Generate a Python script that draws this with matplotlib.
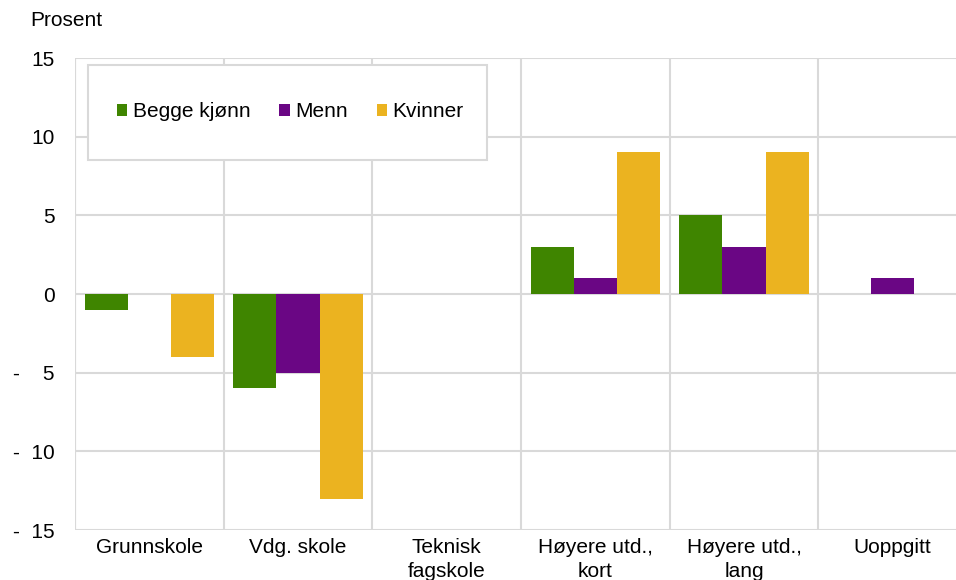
import matplotlib
matplotlib.use("Agg")
import matplotlib.pyplot as plt
from matplotlib.patches import Rectangle
import numpy as np

plt.rcParams['font.family'] = ['Liberation Sans', 'DejaVu Sans']

categories = ["Grunnskole", "Vdg. skole", "Teknisk\nfagskole", "Høyere utd.,\nkort", "Høyere utd.,\nlang", "Uoppgitt"]
begge = [-1, -6, 0, 3, 5, 0]
menn = [0, -5, 0, 1, 3, 1]
kvinner = [-4, -13, 0, 9, 9, 0]
series_names = ["Begge kjønn", "Menn", "Kvinner"]
colors = ["#3f8500", "#6a0684", "#ebb320"]
yticks = [-15, -10, -5, 0, 5, 10, 15]
ytick_labels = ["-  15", "-  10", "-    5", "0", "5", "10", "15"]

FS = 15
W, H = 956, 580
fig = plt.figure(figsize=(W/100, H/100), dpi=100)
left, right, top, bottom = 75, 967, 58, 530
ax = fig.add_axes([left/W, 1-bottom/H, (right-left)/W, (bottom-top)/H])

x = np.arange(len(categories))
bw = 0.29
for i, (vals, name, c) in enumerate(zip([begge, menn, kvinner], series_names, colors)):
    ax.bar(x + (i-1)*bw, vals, bw, color=c, label=name, zorder=3)

ax.set_xlim(-0.5, len(categories)-0.5)
ax.set_ylim(-15, 15)
ax.set_yticks(yticks)
ax.set_yticklabels(ytick_labels)
ax.set_xticks(x)
ax.set_xticklabels(categories, linespacing=1.3)
ax.set_xticks(np.arange(len(categories)+1)-0.5, minor=True)
ax.tick_params(axis='both', which='both', length=0, labelsize=FS, colors='black')
ax.tick_params(axis='y', pad=14.5)
ax.tick_params(axis='x', pad=6)
ax.grid(axis='y', which='major', color='#d9d9d9', linewidth=1.5, zorder=0)
ax.grid(axis='x', which='minor', color='#d9d9d9', linewidth=1.5, zorder=0)
ax.grid(axis='x', which='major', visible=False)
for s in ax.spines.values():
    s.set_visible(False)
ax.axvline(-0.5, color='#d9d9d9', linewidth=1.5, zorder=0)

fig.text(30/W, 1-20/H, "Prosent", fontsize=FS, va='center', ha='left')

# legend frame
frame = Rectangle((88/W, 1-160/H), (487-88)/W, (160-65)/H, transform=fig.transFigure,
                  facecolor='white', edgecolor='#d9d9d9', linewidth=1.5, zorder=4)
fig.add_artist(frame)
leg = fig.legend(*ax.get_legend_handles_labels(), loc='center left',
                 bbox_to_anchor=(117/W, 1-112/H), ncol=3, frameon=False, fontsize=FS,
                 handlelength=0.5, handleheight=0.5, handletextpad=0.25, columnspacing=1.4,
                 borderaxespad=0, borderpad=0)
leg.set_zorder(5)

fig.savefig("out.png", dpi=100)
